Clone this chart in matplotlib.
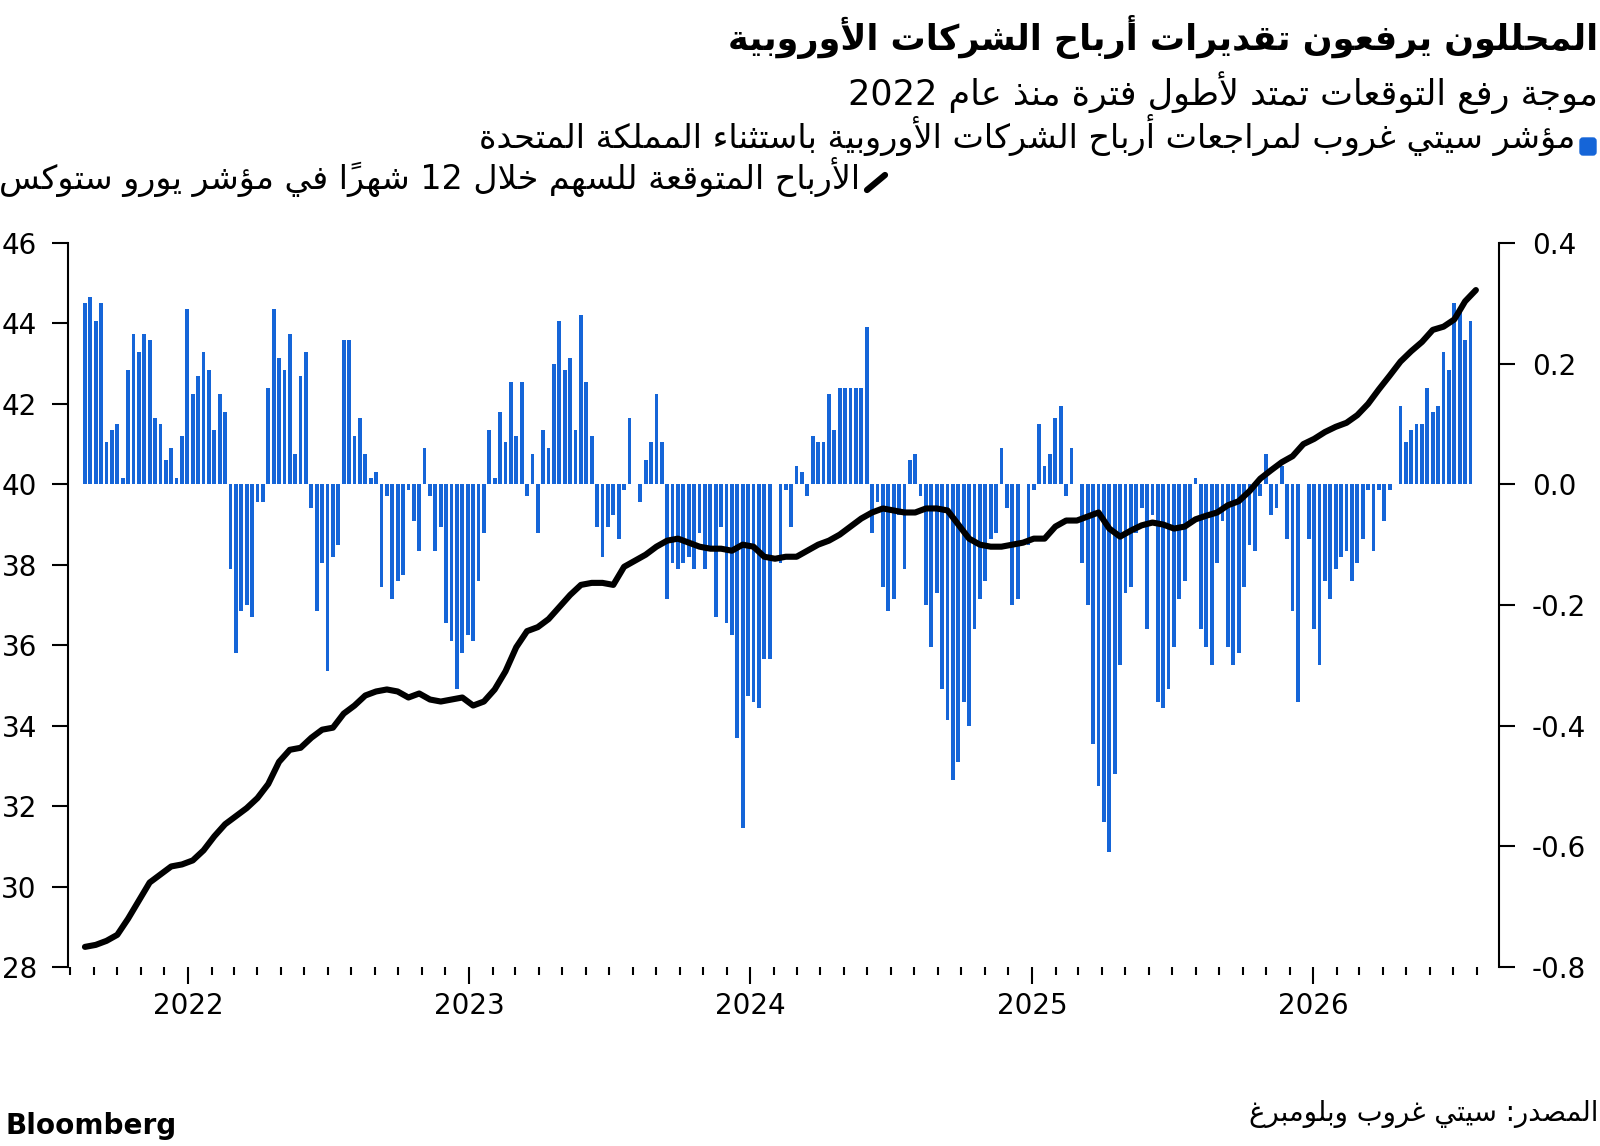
import matplotlib
matplotlib.use('Agg')
import pandas as pd
import matplotlib.pyplot as plt
import matplotlib.dates as mdates
from matplotlib.patches import FancyBboxPatch
from matplotlib.lines import Line2D
from matplotlib.transforms import IdentityTransform

W, H = 1600, 1146

title = 'المحللون يرفعون تقديرات أرباح الشركات الأوروبية'
subtitle = 'موجة رفع التوقعات تمتد لأطول فترة منذ عام 2022'
bar_label = 'مؤشر سيتي غروب لمراجعات أرباح الشركات الأوروبية باستثناء المملكة المتحدة'
line_label = 'الأرباح المتوقعة للسهم خلال 12 شهراً في مؤشر يورو ستوكس'
source = 'المصدر: سيتي غروب وبلومبرغ'

# weekly Citi earnings revision index (right axis)
bar_start = '2021-08-20'
revisions = [
    0.30, 0.31, 0.27, 0.30, 0.07, 0.09, 0.10, 0.01, 0.19, 0.25,
    0.22, 0.25, 0.24, 0.11, 0.10, 0.04, 0.06, 0.01, 0.08, 0.29,
    0.15, 0.18, 0.22, 0.19, 0.09, 0.15, 0.12, -0.14, -0.28, -0.21,
    -0.20, -0.22, -0.03, -0.03, 0.16, 0.29, 0.21, 0.19, 0.25, 0.05,
    0.18, 0.22, -0.04, -0.21, -0.13, -0.31, -0.12, -0.10, 0.24, 0.24,
    0.08, 0.11, 0.05, 0.01, 0.02, -0.17, -0.02, -0.19, -0.16, -0.15,
    -0.01, -0.06, -0.11, 0.06, -0.02, -0.11, -0.07, -0.23, -0.26, -0.34,
    -0.28, -0.25, -0.26, -0.16, -0.08, 0.09, 0.01, 0.12, 0.07, 0.17,
    0.08, 0.17, -0.02, 0.05, -0.08, 0.09, 0.06, 0.20, 0.27, 0.19,
    0.21, 0.09, 0.28, 0.17, 0.08, -0.07, -0.12, -0.07, -0.05, -0.09,
    -0.01, 0.11, 0.0, -0.03, 0.04, 0.07, 0.15, 0.07, -0.19, -0.13,
    -0.14, -0.13, -0.12, -0.14, -0.08, -0.14, -0.11, -0.22, -0.07, -0.23,
    -0.25, -0.42, -0.57, -0.35, -0.36, -0.37, -0.29, -0.29, 0.0, -0.13,
    -0.01, -0.07, 0.03, 0.02, -0.02, 0.08, 0.07, 0.07, 0.15, 0.09,
    0.16, 0.16, 0.16, 0.16, 0.16, 0.26, -0.08, -0.03, -0.17, -0.21,
    -0.19, -0.05, -0.14, 0.04, 0.05, -0.02, -0.20, -0.27, -0.18, -0.34,
    -0.39, -0.49, -0.46, -0.36, -0.40, -0.24, -0.19, -0.16, -0.09, -0.08,
    0.06, -0.04, -0.20, -0.19, 0.0, -0.10, -0.01, 0.10, 0.03, 0.05,
    0.11, 0.13, -0.02, 0.06, 0.0, -0.13, -0.20, -0.43, -0.50, -0.56,
    -0.61, -0.48, -0.30, -0.18, -0.17, -0.08, -0.04, -0.24, -0.05, -0.36,
    -0.37, -0.34, -0.27, -0.19, -0.16, -0.06, 0.01, -0.24, -0.27, -0.30,
    -0.13, -0.06, -0.27, -0.30, -0.28, -0.17, -0.10, -0.11, -0.02, 0.05,
    -0.05, -0.04, 0.03, -0.09, -0.21, -0.36, 0.0, -0.09, -0.24, -0.30,
    -0.16, -0.19, -0.14, -0.12, -0.11, -0.16, -0.13, -0.09, -0.01, -0.11,
    -0.01, -0.06, -0.01, 0.0, 0.13, 0.07, 0.09, 0.10, 0.10, 0.16,
    0.12, 0.13, 0.22, 0.19, 0.30, 0.29, 0.24, 0.27,
]

# Euro Stoxx 12m forward EPS, read every two weeks (left axis)
line_start = '2021-08-20'
eps = [
    28.5, 28.55, 28.65, 28.8, 29.2, 29.65, 30.1, 30.3, 30.5, 30.55,
    30.65, 30.9, 31.25, 31.55, 31.75, 31.95, 32.2, 32.55, 33.1, 33.4,
    33.45, 33.7, 33.9, 33.95, 34.3, 34.5, 34.75, 34.85, 34.9, 34.85,
    34.7, 34.8, 34.65, 34.6, 34.65, 34.7, 34.5, 34.6, 34.9, 35.35,
    35.95, 36.35, 36.45, 36.65, 36.95, 37.25, 37.5, 37.55, 37.55, 37.5,
    37.95, 38.1, 38.25, 38.45, 38.6, 38.65, 38.55, 38.45, 38.4, 38.4,
    38.35, 38.5, 38.45, 38.2, 38.15, 38.2, 38.2, 38.35, 38.5, 38.6,
    38.75, 38.95, 39.15, 39.3, 39.4, 39.35, 39.3, 39.3, 39.4, 39.4,
    39.35, 39.0, 38.65, 38.5, 38.45, 38.45, 38.5, 38.55, 38.65, 38.65,
    38.95, 39.1, 39.1, 39.2, 39.3, 38.9, 38.7, 38.85, 38.98, 39.05,
    39.0, 38.9, 38.95, 39.13, 39.22, 39.3, 39.48, 39.58, 39.83, 40.14,
    40.35, 40.55, 40.7, 41.0, 41.13, 41.3, 41.43, 41.53, 41.72, 42.0,
    42.36, 42.7, 43.05, 43.31, 43.54, 43.84, 43.92, 44.1, 44.55, 44.83,
]

left_ticks = [28, 30, 32, 34, 36, 38, 40, 42, 44, 46]
right_ticks = [-0.8, -0.6, -0.4, -0.2, 0.0, 0.2, 0.4]

BLUE = '#1565d8'

# matplotlib does no Arabic shaping or bidi: pick the contextual
# presentation forms ourselves and lay the string out in visual order
_FORMS = {
    'ء': (0xFE80, 1), 'آ': (0xFE81, 2), 'أ': (0xFE83, 2), 'ؤ': (0xFE85, 2),
    'إ': (0xFE87, 2), 'ئ': (0xFE89, 4), 'ا': (0xFE8D, 2), 'ب': (0xFE8F, 4),
    'ة': (0xFE93, 2), 'ت': (0xFE95, 4), 'ث': (0xFE99, 4), 'ج': (0xFE9D, 4),
    'ح': (0xFEA1, 4), 'خ': (0xFEA5, 4), 'د': (0xFEA9, 2), 'ذ': (0xFEAB, 2),
    'ر': (0xFEAD, 2), 'ز': (0xFEAF, 2), 'س': (0xFEB1, 4), 'ش': (0xFEB5, 4),
    'ص': (0xFEB9, 4), 'ض': (0xFEBD, 4), 'ط': (0xFEC1, 4), 'ظ': (0xFEC5, 4),
    'ع': (0xFEC9, 4), 'غ': (0xFECD, 4), 'ف': (0xFED1, 4), 'ق': (0xFED5, 4),
    'ك': (0xFED9, 4), 'ل': (0xFEDD, 4), 'م': (0xFEE1, 4), 'ن': (0xFEE5, 4),
    'ه': (0xFEE9, 4), 'و': (0xFEED, 2), 'ى': (0xFEEF, 2), 'ي': (0xFEF1, 4),
}
_LAM_ALEF = {'آ': 0xFEF5, 'أ': 0xFEF7, 'إ': 0xFEF9, 'ا': 0xFEFB}


def _is_mark(c):
    return '\u064B' <= c <= '\u065F' or c == '\u0670'


def shape_arabic(text):
    tokens = []
    i = 0
    while i < len(text):
        c = text[i]
        if c == 'ل' and i + 1 < len(text) and text[i + 1] in _LAM_ALEF:
            tokens.append((_LAM_ALEF[text[i + 1]], 2))
            i += 2
            continue
        if c in _FORMS:
            tokens.append(_FORMS[c])
        elif _is_mark(c):
            tokens.append((c, -1))
        else:
            tokens.append((c, 0))
        i += 1

    out = []
    for k, (base, n) in enumerate(tokens):
        if n <= 0:
            out.append(base)
            continue
        j = k - 1
        while j >= 0 and tokens[j][1] == -1:
            j -= 1
        prev_joins = j >= 0 and tokens[j][1] == 4 and n >= 2
        j = k + 1
        while j < len(tokens) and tokens[j][1] == -1:
            j += 1
        next_joins = n == 4 and j < len(tokens) and tokens[j][1] >= 2
        if prev_joins and next_joins:
            form = 3
        elif prev_joins:
            form = 1
        elif next_joins:
            form = 2
        else:
            form = 0
        out.append(chr(base + form))

    clusters = []
    for ch, (_, n) in zip(out, tokens):
        if n == -1 and clusters:
            clusters[-1] += ch
        elif ch.isdigit() and clusters and clusters[-1][-1].isdigit():
            clusters[-1] += ch
        else:
            clusters.append(ch)
    return ''.join(reversed(clusters))


plt.rcParams['font.family'] = ['DejaVu Sans']

fig = plt.figure(figsize=(W / 100, H / 100), dpi=100)
renderer = fig.canvas.get_renderer()


def put_text(s, x_px, y_px, width_px, ha='right', **kw):
    # size the text so it covers the same width as in the reference
    t = fig.text(x_px / W, 1 - y_px / H, s, ha=ha, va='baseline', fontsize=20, **kw)
    w = t.get_window_extent(renderer).width
    t.set_fontsize(20 * width_px / w)
    return t


ax_bar = fig.add_axes([68 / W, 1 - 967 / H, (1499 - 68) / W, (967 - 243) / H])
ax_line = ax_bar.twinx()

bar_dates = pd.date_range(bar_start, periods=len(revisions), freq='7D')
line_dates = pd.date_range(line_start, periods=len(eps), freq='14D')

ax_bar.bar(bar_dates, revisions, width=4.9, color=BLUE, linewidth=0)
ax_line.plot(line_dates, eps, color='black', lw=4.4, solid_capstyle='round',
             solid_joinstyle='round')

ax_bar.set_ylim(-0.8, 0.4)
ax_line.set_ylim(28, 46)
ax_bar.set_xlim(pd.Timestamp('2021-07-29'), pd.Timestamp('2026-08-30'))

ax_bar.yaxis.tick_right()
ax_line.yaxis.tick_left()
ax_bar.set_yticks(right_ticks)
ax_bar.set_yticklabels([f'{v:.1f}'.replace('-0.0', '0.0') for v in right_ticks])
ax_line.set_yticks(left_ticks)
ax_line.set_yticklabels([str(v) for v in left_ticks])

for a in (ax_bar, ax_line):
    for side in ('top', 'bottom', 'left', 'right'):
        a.spines[side].set_visible(False)
ax_bar.spines['right'].set_visible(True)
ax_line.spines['left'].set_visible(True)
ax_bar.spines['right'].set_linewidth(1.5)
ax_line.spines['left'].set_linewidth(1.5)

ax_bar.tick_params(axis='y', direction='out', length=11.5, width=1.5, pad=12,
                   labelsize=20, right=True, left=False)
ax_line.tick_params(axis='y', direction='out', length=11.5, width=1.5, pad=11,
                    labelsize=20, left=True, right=False)

ax_bar.xaxis.set_major_locator(mdates.YearLocator())
ax_bar.xaxis.set_major_formatter(mdates.DateFormatter('%Y'))
ax_bar.xaxis.set_minor_locator(mdates.MonthLocator())
ax_bar.tick_params(axis='x', which='major', direction='out', length=12, width=1.5,
                   pad=6, labelsize=20)
ax_bar.tick_params(axis='x', which='minor', direction='out', length=6, width=1.5)

# header
put_text(shape_arabic(title), 1598, 50, 870, fontweight='bold')
put_text(shape_arabic(subtitle), 1598, 105, 750)

fig.add_artist(FancyBboxPatch((1580, H - 155), 16, 17,
                              boxstyle='round,pad=0,rounding_size=3',
                              transform=IdentityTransform(), color=BLUE))
put_text(shape_arabic(bar_label), 1575, 148, 1092)

fig.add_artist(Line2D([867, 885], [H - 190, H - 175], transform=IdentityTransform(),
                      color='black', lw=4.5, solid_capstyle='round'))
put_text(shape_arabic(line_label), 860, 189, 858)

# footer
put_text(shape_arabic(source), 1598, 1121, 350)
put_text('Bloomberg', 5, 1134, 171, ha='left', fontweight='bold')

fig.savefig('out.png', dpi=100)
